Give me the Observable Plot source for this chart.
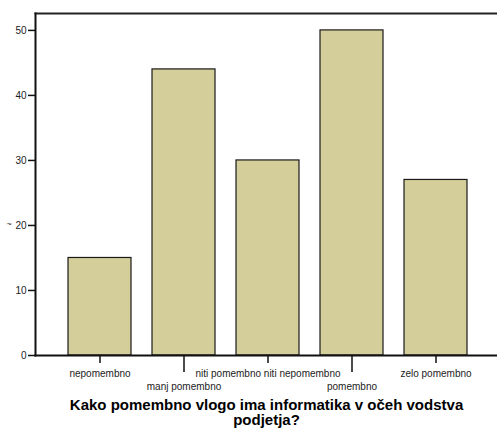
<!DOCTYPE html>
<html>
<head>
<meta charset="utf-8">
<script src="https://cdn.jsdelivr.net/npm/d3@7"></script>
<script src="https://cdn.jsdelivr.net/npm/@observablehq/plot@0.6"></script>
<style>
  html, body { margin: 0; padding: 0; background: #fff; }
  #chart svg { display: block; }
</style>
</head>
<body>
<div id="chart"></div>
<script>
const categories = ["nepomembno", "manj pomembno", "niti pomembno niti nepomembno", "pomembno", "zelo pomembno"];
const counts = [15, 44, 30, 50, 27];
const yTicks = [0, 10, 20, 30, 40, 50];
const title = "Kako pomembno vlogo ima informatika v očeh vodstva\npodjetja?";

const data = categories.map((c, i) => ({category: c, count: counts[i]}));
const upper = categories.filter((c, i) => i % 2 === 0);
const lower = categories.filter((c, i) => i % 2 === 1);

const chart = Plot.plot({
  width: 497,
  height: 430,
  marginTop: 13,
  marginLeft: 35,
  marginRight: 0,
  marginBottom: 75,
  style: {fontFamily: "'Liberation Sans', Arial, sans-serif", background: "#fff", color: "#111"},
  x: {domain: categories, range: [57.5, 478], paddingInner: 0.25, paddingOuter: 0.125, axis: null},
  y: {domain: [0, 52.6], axis: null},
  marks: [
    Plot.barY(data, {x: "category", y: "count", fill: "#d3ce9a", stroke: "#1a1a1a", strokeWidth: 1.2}),
    Plot.frame({anchor: "top", stroke: "#222", strokeWidth: 2}),
    Plot.frame({anchor: "left", stroke: "#111", strokeWidth: 2}),
    Plot.frame({anchor: "bottom", stroke: "#111", strokeWidth: 2}),
    Plot.axisY({ticks: yTicks, tickSize: 7, tickPadding: 2, fontSize: 10, label: null, stroke: "#111", strokeWidth: 1.5, fill: "#222"}),
    Plot.axisX({ticks: upper, tickSize: 8, tickPadding: 6, fontSize: 10, label: null, stroke: "#111", strokeWidth: 1.5, fill: "#222"}),
    Plot.axisX({ticks: lower, tickSize: 17, tickPadding: 10, fontSize: 10, label: null, stroke: "#111", strokeWidth: 1.5, fill: "#222", tickFormat: (d) => d}),
    Plot.text(["~"], {frameAnchor: "left", dx: -29, dy: 40, fontSize: 9, fill: "#333"}),
    Plot.text([title], {frameAnchor: "bottom", dy: 57, lineAnchor: "middle", lineHeight: 1.05, fontSize: 15, fontWeight: "bold", fill: "#000"})
  ]
});
document.getElementById("chart").appendChild(chart);
</script>
</body>
</html>
